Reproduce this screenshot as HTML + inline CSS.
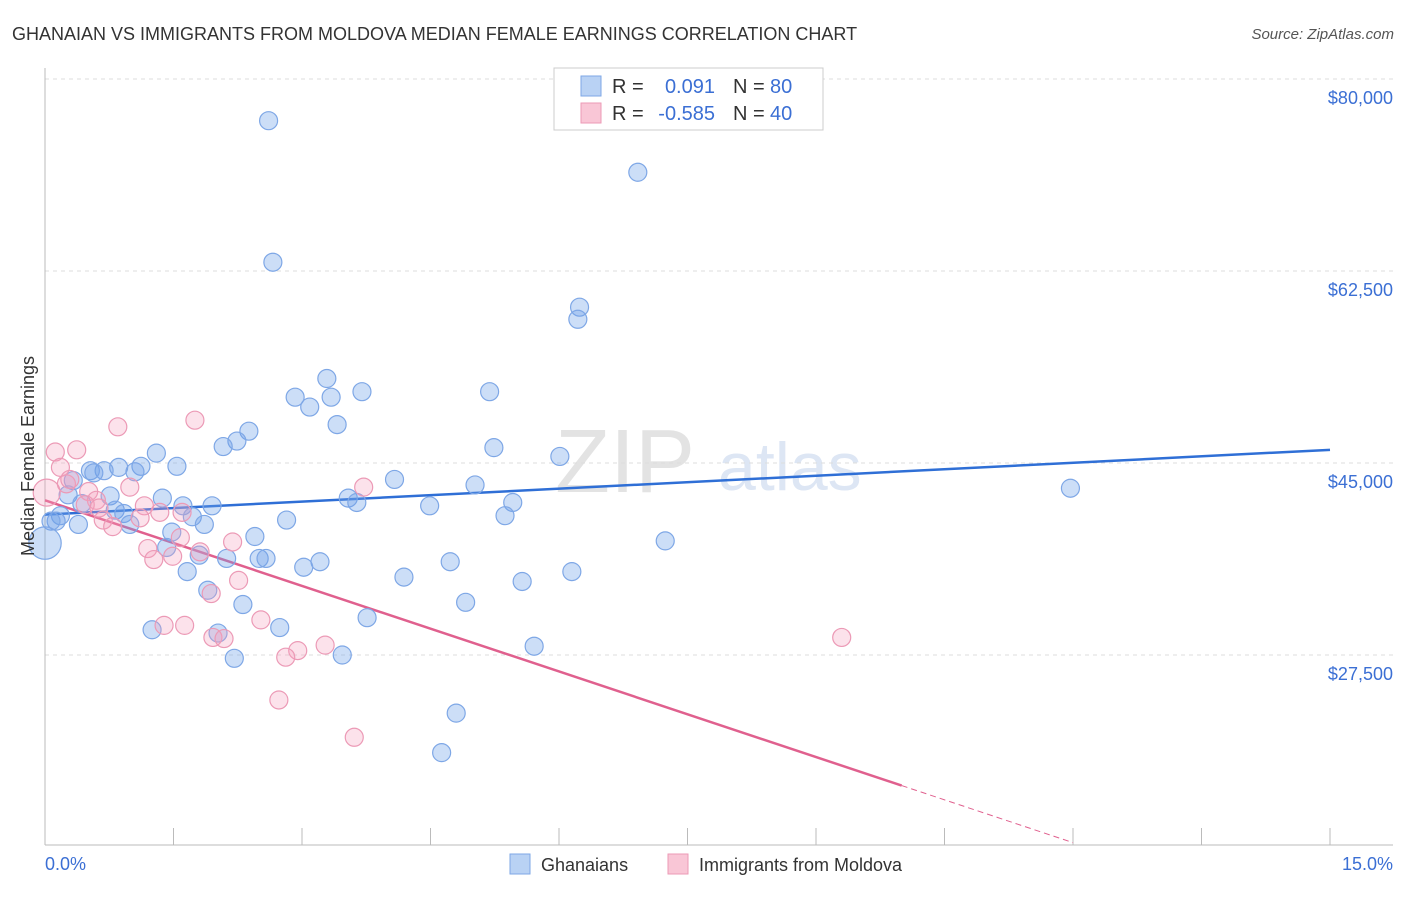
<!DOCTYPE html>
<html><head><meta charset="utf-8"><style>
body{margin:0;background:#fff;font-family:"Liberation Sans",sans-serif;}
svg text{font-family:"Liberation Sans",sans-serif;}
</style></head><body>
<svg id="chart" width="1406" height="892" xmlns="http://www.w3.org/2000/svg">
<text x="12" y="40" font-size="18" fill="#333">GHANAIAN VS IMMIGRANTS FROM MOLDOVA MEDIAN FEMALE EARNINGS CORRELATION CHART</text>
<text x="1394" y="39" font-size="15" fill="#555" font-style="italic" text-anchor="end">Source: ZipAtlas.com</text>
<text x="555" y="492" font-size="90" fill="#e3e3e3" font-family="Liberation Serif">ZIP</text>
<text x="718" y="490" font-size="68" fill="#dde6f4">atlas</text>
<g id="grid"></g>
<g id="axes"></g>
<g id="trends"></g>
<g id="points"></g>
<text transform="translate(34,456) rotate(-90)" font-size="18" fill="#333" text-anchor="middle">Median Female Earnings</text>
<text x="45" y="870" font-size="18" fill="#3b6fd4">0.0%</text>
<text x="1393" y="870" font-size="18" fill="#3b6fd4" text-anchor="end">15.0%</text>
<g>
<rect x="554" y="68" width="269" height="62" fill="#fff" stroke="#ccc"/>
<rect x="581" y="76" width="20" height="20" fill="#b9d2f4" stroke="#7ea7e6"/>
<rect x="581" y="103" width="20" height="20" fill="#f9c6d6" stroke="#ec9ab6"/>
<text x="612" y="93" font-size="20" fill="#333">R =</text>
<text x="715" y="93" font-size="20" fill="#3b6fd4" text-anchor="end">0.091</text>
<text x="733" y="93" font-size="20" fill="#333">N =</text>
<text x="770" y="93" font-size="20" fill="#3b6fd4">80</text>
<text x="612" y="120" font-size="20" fill="#333">R =</text>
<text x="715" y="120" font-size="20" fill="#3b6fd4" text-anchor="end">-0.585</text>
<text x="733" y="120" font-size="20" fill="#333">N =</text>
<text x="770" y="120" font-size="20" fill="#3b6fd4">40</text>
</g>
<g>
<rect x="510" y="854" width="20" height="20" fill="#b9d2f4" stroke="#7ea7e6"/>
<text x="541" y="871" font-size="18" fill="#333">Ghanaians</text>
<rect x="668" y="854" width="20" height="20" fill="#f9c6d6" stroke="#ec9ab6"/>
<text x="699" y="871" font-size="18" fill="#333">Immigrants from Moldova</text>
</g>
</svg>
<script>
const yTicks=[80000,62500,45000,27500];
const yTickLabels=["$80,000","$62,500","$45,000","$27,500"];
const xTicks=[0,1.5,3,4.5,6,7.5,9,10.5,12,13.5,15];
const blueX=[2.61,6.92,2.66,6.24,6.22,3.29,2.92,3.34,3.70,5.19,3.09,3.41,2.38,2.24,2.08,5.24,6.01,1.30,1.54,1.12,0.86,0.69,0.53,0.57,1.05,0.33,4.08,5.02,11.97,0.27,0.76,1.37,3.54,3.64,5.46,0.43,1.95,1.61,4.49,0.82,0.18,0.92,1.72,0.13,0.07,5.37,2.82,0.39,0.99,1.86,1.48,2.45,7.24,1.42,1.80,2.12,2.50,2.58,3.21,3.02,4.73,1.66,4.19,6.15,5.57,1.90,2.31,4.91,3.76,1.25,2.74,2.02,5.71,2.21,3.47,4.80,4.63,0.0];
const blueY=[76.2,71.5,63.3,59.2,58.1,52.7,51.0,51.0,51.5,51.5,50.1,48.5,47.9,47.0,46.5,46.4,45.6,45.9,44.7,44.7,44.6,44.3,44.3,44.1,44.2,43.4,43.5,43.0,42.7,42.1,42.0,41.8,41.8,41.4,41.4,41.3,41.1,41.1,41.1,40.7,40.2,40.4,40.1,39.7,39.7,40.2,39.8,39.4,39.4,39.4,38.7,38.3,37.9,37.3,36.6,36.3,36.3,36.3,36.0,35.5,36.0,35.1,34.6,35.1,34.2,33.4,32.1,32.3,30.9,29.8,30.0,29.5,28.3,27.2,27.5,22.2,18.6,37.7];
const blueSize=[1,1,1,1,1,1,1,1,1,1,1,1,1,1,1,1,1,1,1,1,1,1,1,1,1,1,1,1,1,1,1,1,1,1,1,1,1,1,1,1,1,1,1,1,1,1,1,1,1,1,1,1,1,1,1,1,1,1,1,1,1,1,1,1,1,1,1,1,1,1,1,1,1,1,1,1,1,1.8];
const pinkX=[0.12,0.37,0.18,0.25,0.29,0.85,1.75,0.51,0.60,0.47,0.63,0.99,1.16,1.34,1.60,1.11,0.68,0.79,1.58,1.20,1.81,1.27,2.19,1.49,2.26,1.94,3.72,1.63,1.39,1.96,2.09,2.95,3.27,2.52,2.81,9.30,2.73,3.61,0.02];
const pinkY=[46.0,46.2,44.6,43.1,43.5,48.3,48.9,42.4,41.6,41.2,40.9,42.8,41.1,40.5,40.5,40.0,39.8,39.2,38.2,37.2,36.9,36.2,37.8,36.5,34.3,33.1,42.8,30.2,30.2,29.1,29.0,27.9,28.4,30.7,27.3,29.1,23.4,20.0,42.3];
const pinkSize=[1,1,1,1,1,1,1,1,1,1,1,1,1,1,1,1,1,1,1,1,1,1,1,1,1,1,1,1,1,1,1,1,1,1,1,1,1,1,1.5];
const blueTrend=[40.3,46.2];
const pinkTrend=[41.6,-2.6];
const NS="http://www.w3.org/2000/svg";
const xs=v=>45+v*(1285/15);
const ys=k=>79+(80-k)*(192/17.5);
function mk(t,a,p){const e=document.createElementNS(NS,t);for(const k in a)e.setAttribute(k,a[k]);document.getElementById(p).appendChild(e);return e;}
yTicks.forEach((v,i)=>{
 const l=mk('line',{x1:45,x2:1393,y1:ys(v/1000),y2:ys(v/1000),stroke:'#ddd','stroke-dasharray':'4,4'},'grid');
 
 
 const t=mk('text',{x:1393,y:ys(v/1000)+25,'font-size':18,fill:'#3b6fd4','text-anchor':'end'},'grid');
 t.textContent=yTickLabels[i];
 
 
});
let a=mk('line',{x1:45,x2:45,y1:68,y2:845,stroke:'#bbb'},'axes');


a=mk('line',{x1:45,x2:1393,y1:845,y2:845,stroke:'#bbb'},'axes');


xTicks.forEach(v=>{
 const t=mk('line',{x1:xs(v),x2:xs(v),y1:828,y2:845,stroke:'#bbb'},'axes');
 
 
});
blueX.forEach((x,i)=>{
 const c=mk('circle',{cx:xs(x),cy:ys(blueY[i]),r:9*blueSize[i],fill:'rgba(110,160,232,0.35)',stroke:'#7ea7e6','stroke-width':1.2},'points');
 
 
});
pinkX.forEach((x,i)=>{
 const c=mk('circle',{cx:xs(x),cy:ys(pinkY[i]),r:9*pinkSize[i],fill:'rgba(244,160,190,0.3)',stroke:'#ec9ab6','stroke-width':1.2},'points');
 
 
});
let tl=mk('line',{x1:xs(0),y1:ys(blueTrend[0]),x2:xs(15),y2:ys(blueTrend[1]),stroke:'#2f6fd6','stroke-width':2.5},'trends');


const pe=v=>pinkTrend[0]+pinkTrend[1]*v;
tl=mk('line',{x1:xs(0),y1:ys(pe(0)),x2:xs(10),y2:ys(pe(10)),stroke:'#e0608e','stroke-width':2.5},'trends');


tl=mk('line',{x1:xs(10),y1:ys(pe(10)),x2:xs(12),y2:ys(pe(12)),stroke:'#e0608e','stroke-width':1,'stroke-dasharray':'6,4'},'trends');


</script>
</body></html>
